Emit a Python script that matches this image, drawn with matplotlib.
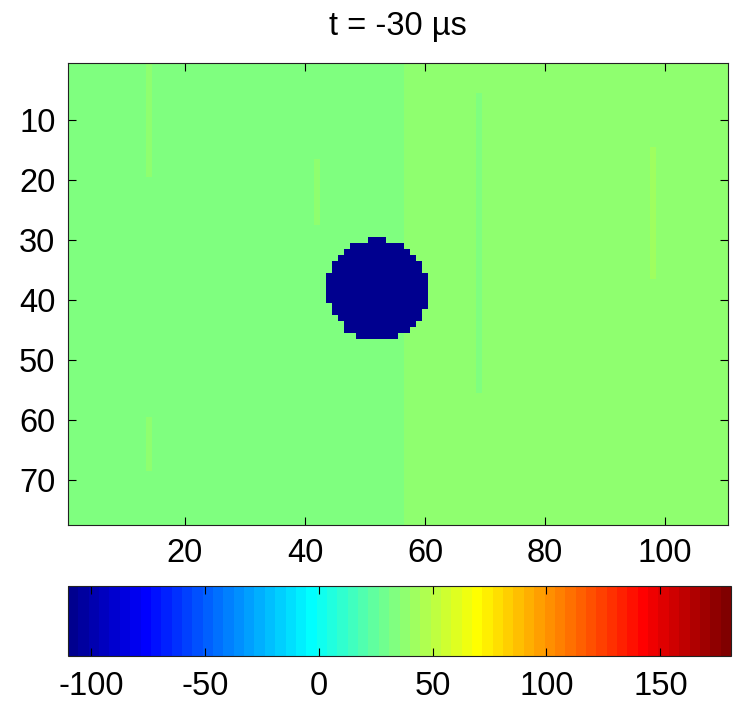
import numpy as np
import matplotlib
matplotlib.use("Agg")
from matplotlib import pyplot as plt
from matplotlib.colors import ListedColormap

plt.rcParams['font.family'] = ['Liberation Sans', 'DejaVu Sans']
plt.rcParams['axes.unicode_minus'] = False

# frame size (rows x columns) and colour limits
n_rows = 77
n_cols = 110
c_min = -110
c_max = 181

# background level, left and right part of the frame
bg_split_col = 57
bg_left = 33
bg_right = 38

# faint vertical streaks: column, first row, last row, level
streak_cols = [14, 14, 42, 69, 98]
streak_row_from = [1, 60, 17, 6, 15]
streak_row_to = [19, 68, 27, 55, 36]
streak_levels = [38, 38, 38, 33, 42]

# dark spot: per-row column spans
spot_rows = [30, 31, 32, 33, 34, 35, 36, 37, 38, 39, 40, 41, 42, 43, 44, 45, 46]
spot_col_from = [51, 48, 47, 46, 45, 45, 44, 44, 44, 44, 44, 45, 45, 46, 47, 47, 49]
spot_col_to = [53, 56, 57, 58, 59, 59, 60, 60, 60, 60, 60, 60, 59, 59, 58, 57, 55]
spot_level = -110

x_ticks = [20, 40, 60, 80, 100]
y_ticks = [10, 20, 30, 40, 50, 60, 70]
cbar_ticks = [-100, -50, 0, 50, 100, 150]
title = 't = -30 µs'


def matlab_jet(m=64):
    """Same table as MATLAB's jet(m)"""
    n = int(np.ceil(m / 4))
    u = np.concatenate([np.arange(1, n + 1) / n, np.ones(n - 1), np.arange(n, 0, -1) / n])
    g = int(np.ceil(n / 2)) - (1 if m % 4 == 1 else 0) + np.arange(1, len(u) + 1)
    table = np.zeros((m, 3))
    for idx, ch in ((g + n, 0), (g, 1), (g - n, 2)):
        ok = (idx >= 1) & (idx <= m)
        table[idx[ok] - 1, ch] = u[ok]
    return ListedColormap(table)


def build_frame():
    frame = np.full((n_rows, n_cols), float(bg_left))
    frame[:, bg_split_col - 1:] = bg_right
    for c, r0, r1, v in zip(streak_cols, streak_row_from, streak_row_to, streak_levels):
        frame[r0 - 1:r1, c - 1] = v
    for r, c0, c1 in zip(spot_rows, spot_col_from, spot_col_to):
        frame[r - 1, c0 - 1:c1] = spot_level
    return frame


frame = build_frame()
cmap = matlab_jet(64)

fig = plt.figure(figsize=(7.37, 7.03), dpi=100)
ax = fig.add_axes([68 / 737, 1 - 525 / 703, 660 / 737, 462 / 703])
cax = fig.add_axes([68 / 737, 1 - 656 / 703, 663 / 737, 70 / 703])

im = ax.imshow(frame, cmap=cmap, vmin=c_min, vmax=c_max, aspect='auto',
               interpolation='nearest', extent=(0.5, n_cols + 0.5, n_rows + 0.5, 0.5))
ax.set_xticks(x_ticks)
ax.set_yticks(y_ticks)
ax.tick_params(direction='in', top=True, right=True, length=6, width=0.8,
               labelsize=23.5, pad=9)
ax.set_title(title, fontsize=23.5, pad=20)
for s in ax.spines.values():
    s.set_linewidth(0.8)
    s.set_color('#222222')

cb = fig.colorbar(im, cax=cax, orientation='horizontal')
cb.set_ticks(cbar_ticks)
cax.tick_params(direction='in', top=True, bottom=True, length=6, width=0.8,
                labelsize=23.5, pad=11)
cb.outline.set_linewidth(0.8)
cb.outline.set_edgecolor('#222222')

fig.savefig('out.png', dpi=100)
